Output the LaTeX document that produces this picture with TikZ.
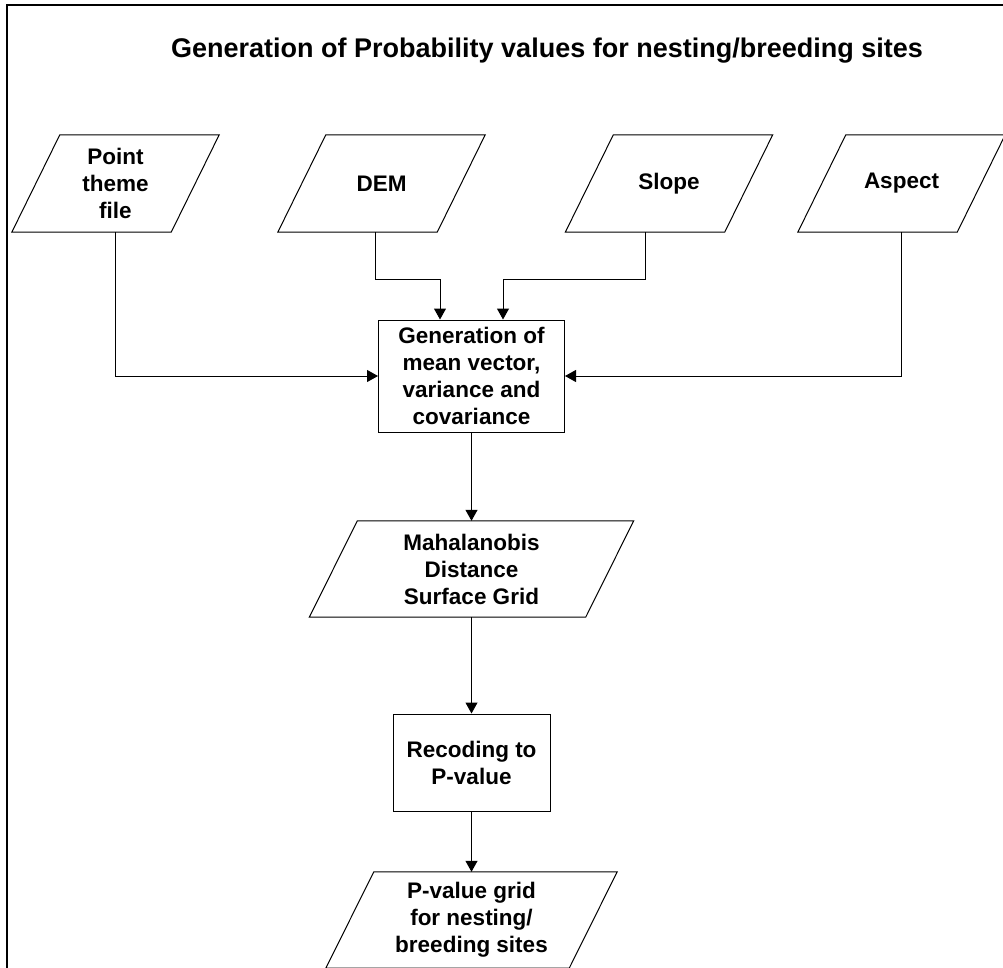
\documentclass[tikz,border=0pt]{standalone}
\usepackage{fontspec}
\setmainfont{Liberation Sans}
\usetikzlibrary{arrows.meta}
\newcommand\drawpara[1]{\draw[shapeline] ([xshift=48pt]#1.north west) -- (#1.north east) -- ([xshift=-48pt]#1.south east) -- (#1.south west) -- cycle;}
\begin{document}
\begin{tikzpicture}[x=1pt,y=-1pt,
  lbl/.style={inner sep=0pt, align=center, font=\bfseries\fontsize{22.5}{27}\selectfont},
  io/.style={lbl, minimum width=207pt, minimum height=97pt},
  proc/.style={lbl, draw, line width=1pt},
  shapeline/.style={line width=1pt},
  conn/.style={line width=1pt},
  arr/.style={conn, -{Triangle[length=11pt,width=12pt]}}]
\useasboundingbox (0,0) rectangle (1003,967);
\draw[line width=2pt] (6.7,1000) -- (6.7,4.8) -- (1020,4.8);
\node[font=\bfseries\fontsize{27}{32}\selectfont, anchor=base, inner sep=0pt] (title) at (547,57) {Generation of Probability values for nesting/breeding sites};
% inputs
\node[io] (pt) at (115.5,183.5) {Point\\theme\\file};
\node[io] (dem) at (381.5,183.5) {DEM};
\node[io] (slope) at (669,183.5) {Slope};
\node[io] (asp) at (901.5,183.5) {Aspect};
\drawpara{pt}
\drawpara{dem}
\drawpara{slope}
\drawpara{asp}
% process
\node[proc, minimum width=186pt, minimum height=112pt] (gen) at (471.5,376) {Generation of\\mean vector,\\variance and\\covariance};
\node[lbl, minimum width=324pt, minimum height=96pt] (mah) at (471.5,569) {Mahalanobis\\Distance\\Surface Grid};
\drawpara{mah}
\node[proc, minimum width=157pt, minimum height=97pt] (rec) at (471.5,762.5) {Recoding to\\P-value};
\node[lbl, minimum width=291pt, minimum height=96pt] (pv) at (471.5,920) {P-value grid\\for nesting/\\breeding sites};
\drawpara{pv}
% connectors
\draw[arr] (pt.south) |- (gen.west);
\draw[arr] (asp.south) |- (gen.east);
\draw[arr] ([xshift=-6.5pt]dem.south) |- ([xshift=-31.5pt,yshift=40pt]gen.north) -- ([xshift=-31.5pt]gen.north);
\draw[arr] ([xshift=-24pt]slope.south) |- ([xshift=31.5pt,yshift=40pt]gen.north) -- ([xshift=31.5pt]gen.north);
\draw[arr] (gen.south) -- (mah.north);
\draw[arr] (mah.south) -- (rec.north);
\draw[arr] (rec.south) -- (pv.north);
\end{tikzpicture}
\end{document}
